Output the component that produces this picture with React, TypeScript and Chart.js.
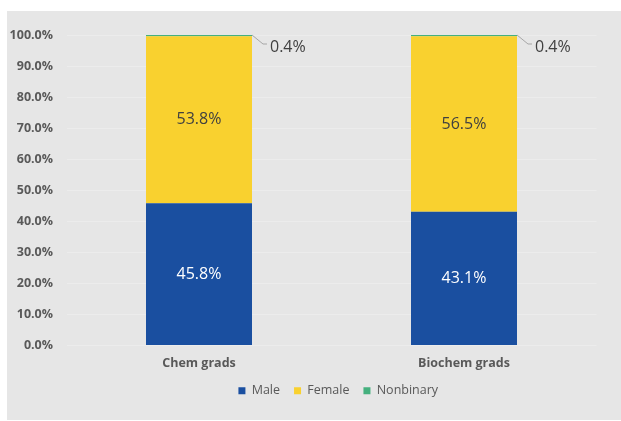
import React, { useEffect, useRef } from "react";
import { Chart, registerables } from "chart.js";

Chart.register(...registerables);

const categories = ["Chem grads", "Biochem grads"];
const maleValues = [45.8, 43.1];
const femaleValues = [53.8, 56.5];
const nonbinaryValues = [0.4, 0.4];
const seriesNames = ["Male", "Female", "Nonbinary"];
const seriesColors = ["#1a4fa0", "#f9d12f", "#45b07e"];
const labelColors = ["#ffffff", "#404040", "#404040"];

const FONT = "'Open Sans', 'DejaVu Sans', sans-serif";

const dataLabelPlugin = {
  id: "dataLabels",
  afterDatasetsDraw(chart: any) {
    const ctx = chart.ctx;
    ctx.save();
    chart.data.datasets.forEach((ds: any, di: number) => {
      const meta = chart.getDatasetMeta(di);
      meta.data.forEach((bar: any, i: number) => {
        const v = ds.data[i];
        const text = v.toFixed(1) + "%";
        ctx.font = `16px ${FONT}`;
        ctx.textBaseline = "middle";
        if (di < 2) {
          ctx.fillStyle = labelColors[di];
          ctx.textAlign = "center";
          ctx.fillText(text, bar.x, (bar.y + bar.base) / 2);
        } else {
          const rx = bar.x + bar.width / 2;
          const ty = bar.y;
          ctx.strokeStyle = "#a6a6a6";
          ctx.lineWidth = 1;
          ctx.beginPath();
          ctx.moveTo(rx, ty);
          ctx.lineTo(rx + 11, ty + 9);
          ctx.lineTo(rx + 15, ty + 9);
          ctx.stroke();
          ctx.fillStyle = labelColors[di];
          ctx.textAlign = "left";
          ctx.fillText(text, rx + 18, ty + 12);
        }
      });
    });
    ctx.restore();
  },
};

const legendShiftPlugin = {
  id: "legendShift",
  afterLayout(chart: any) {
    if (chart.legend) {
      chart.legend.left += 40;
      chart.legend.right += 40;
      chart.legend.top -= 11;
      chart.legend.bottom -= 11;
    }
  },
};

export default function App() {
  const canvasRef = useRef<HTMLCanvasElement | null>(null);

  useEffect(() => {
    if (!canvasRef.current) return;
    const chart = new Chart(canvasRef.current, {
      type: "bar",
      data: {
        labels: categories,
        datasets: [
          { label: seriesNames[0], data: maleValues, backgroundColor: seriesColors[0] },
          { label: seriesNames[1], data: femaleValues, backgroundColor: seriesColors[1] },
          { label: seriesNames[2], data: nonbinaryValues, backgroundColor: seriesColors[2] },
        ],
      },
      options: {
        animation: false,
        responsive: true,
        maintainAspectRatio: false,
        datasets: { bar: { barPercentage: 0.5, categoryPercentage: 0.8 } },
        layout: { padding: { left: 0, right: 24.5, top: 35, bottom: 3 } },
        scales: {
          x: {
            stacked: true,
            grid: { display: false, drawTicks: false },
            border: { display: false },
            ticks: {
              padding: 10.5,
              color: "#595959",
              font: { family: FONT, size: 12.5, weight: "bold" },
            },
          },
          y: {
            stacked: true,
            min: 0,
            max: 100,
            afterFit(scale: any) {
              scale.width = 66.5;
            },
            grid: { color: "#ececec", drawTicks: false, lineWidth: 1 },
            border: { display: false },
            ticks: {
              stepSize: 10,
              padding: 13.5,
              color: "#595959",
              font: { family: FONT, size: 12.5, weight: "bold" },
              callback: (v: any) => Number(v).toFixed(1) + "%",
            },
          },
        },
        plugins: {
          legend: {
            position: "bottom",
            labels: {
              boxWidth: 7,
              boxHeight: 7,
              padding: 14,
              color: "#595959",
              font: { family: FONT, size: 12.5 },
            },
          },
          tooltip: { enabled: false },
          title: { display: false },
        },
      },
      plugins: [dataLabelPlugin, legendShiftPlugin],
    });
    return () => chart.destroy();
  }, []);

  return (
    <div style={{ position: "fixed", left: 0, top: 0, width: 621, height: 421, background: "#ffffff" }}>
      <div style={{ position: "absolute", left: 7, top: 11, width: 614, height: 409, background: "#e6e6e6" }} />
      <div style={{ position: "absolute", left: 0, top: 0, width: 621, height: 421 }}>
        <canvas ref={canvasRef} />
      </div>
    </div>
  );
}
